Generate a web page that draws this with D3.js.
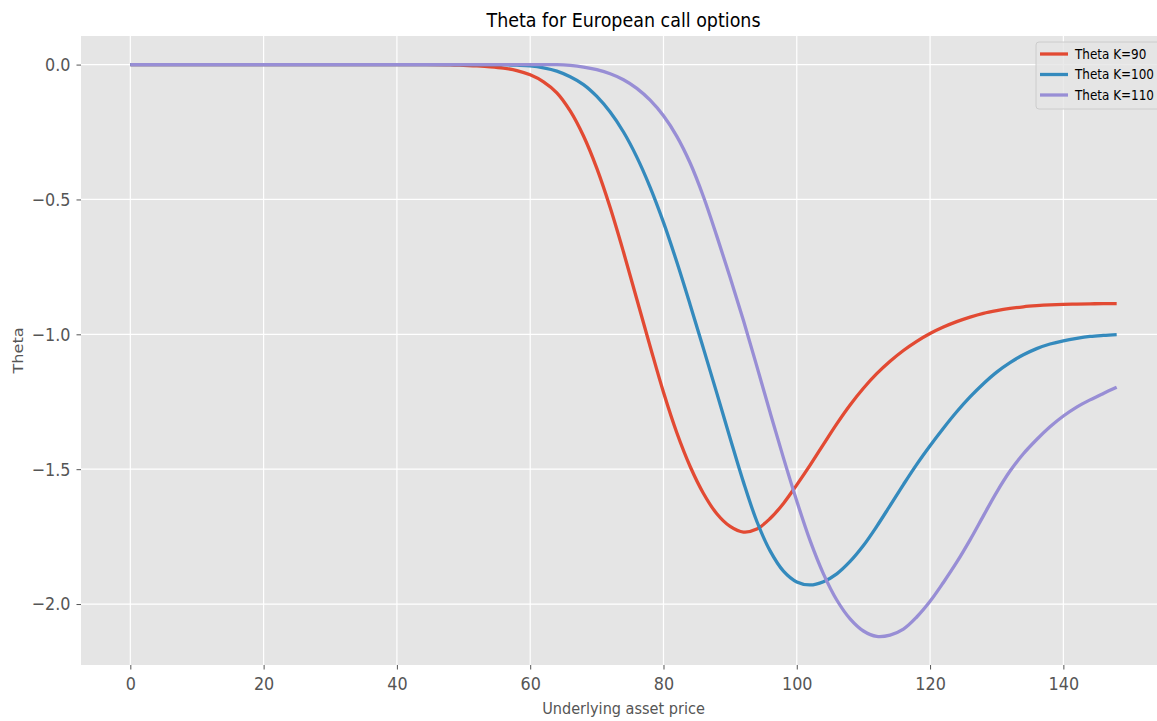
<!DOCTYPE html>
<html>
<head>
<meta charset="utf-8">
<script src="https://cdn.jsdelivr.net/npm/d3@7"></script>
<style>
  html, body { margin: 0; padding: 0; background: #ffffff; }
  svg { display: block; font-family: "DejaVu Sans", sans-serif; }
</style>
</head>
<body>
<svg id="chart" width="1157" height="721"></svg>
<script>
// Underlying asset prices at which theta was evaluated
const prices = [0, 10, 20, 30, 40, 44, 48, 50, 52, 54, 56, 58, 60, 62, 64, 66, 68, 70, 72, 74, 76, 78,
  80, 82, 84, 86, 88, 90, 92, 94, 96, 98, 100, 102, 104, 106, 108, 110, 112, 114, 116, 118,
  120, 122, 124, 126, 128, 130, 132, 134, 136, 138, 140, 142, 144, 146, 148];

// Theta of a European call, strike 90
const thetaK90 = [0, 0, 0, 0, 0, 0, -0.001, -0.003, -0.005, -0.008, -0.013, -0.022, -0.038, -0.064, -0.105, -0.172, -0.265, -0.385, -0.53, -0.695, -0.87, -1.045,
  -1.215, -1.365, -1.49, -1.59, -1.665, -1.712, -1.733, -1.722, -1.683, -1.627, -1.558, -1.485, -1.408, -1.332, -1.262, -1.2, -1.146, -1.1, -1.06, -1.026,
  -0.997, -0.973, -0.953, -0.936, -0.922, -0.912, -0.904, -0.898, -0.894, -0.891, -0.889, -0.888, -0.887, -0.886, -0.886];

// Theta of a European call, strike 100
const thetaK100 = [0, 0, 0, 0, 0, 0, 0, 0, 0, 0, 0, -0.002, -0.005, -0.012, -0.024, -0.045, -0.074, -0.118, -0.176, -0.25, -0.343, -0.455,
  -0.585, -0.732, -0.89, -1.053, -1.218, -1.385, -1.548, -1.693, -1.803, -1.878, -1.918, -1.929, -1.917, -1.888, -1.842, -1.783, -1.712, -1.635, -1.557, -1.482,
  -1.413, -1.348, -1.287, -1.232, -1.183, -1.14, -1.105, -1.076, -1.053, -1.036, -1.024, -1.015, -1.008, -1.004, -1.001];

// Theta of a European call, strike 110
const thetaK110 = [0, 0, 0, 0, 0, 0, 0, 0, 0, 0, 0, 0, 0, 0, 0, -0.003, -0.009, -0.019, -0.034, -0.056, -0.088, -0.132,
  -0.19, -0.266, -0.365, -0.49, -0.636, -0.789, -0.949, -1.118, -1.29, -1.458, -1.618, -1.765, -1.888, -1.985, -2.055, -2.1, -2.12, -2.115, -2.093, -2.048,
  -1.99, -1.92, -1.845, -1.762, -1.673, -1.585, -1.507, -1.443, -1.39, -1.343, -1.303, -1.27, -1.243, -1.219, -1.196];

const seriesNames = ["Theta K=90", "Theta K=100", "Theta K=110"];
const seriesColors = ["#E24A33", "#348ABD", "#988ED5"];
const xTicks = [0, 20, 40, 60, 80, 100, 120, 140];
const yTicks = [0.0, -0.5, -1.0, -1.5, -2.0];

const series = [thetaK90, thetaK100, thetaK110].map((vals, i) => ({
  name: seriesNames[i],
  color: seriesColors[i],
  points: prices.map((p, j) => ({ x: p, y: vals[j] }))
}));

const svg = d3.select("#chart");
const margin = { left: 81, top: 36, right: 1166, bottom: 665 };
const TEXT_STRETCH = 1.15; // glyphs are drawn slightly taller than wide

// axis limits padded by 5% of the data span on each side
const xMin = d3.min(prices), xMax = d3.max(prices);
const xPad = (xMax - xMin) * 0.05;
const allY = [].concat(thetaK90, thetaK100, thetaK110);
const yMin = d3.min(allY), yMax = d3.max(allY);
const yPad = (yMax - yMin) * 0.05;

const x = d3.scaleLinear().domain([xMin - xPad, xMax + xPad]).range([margin.left, margin.right]);
const y = d3.scaleLinear().domain([yMin - yPad, yMax + yPad]).range([margin.bottom, margin.top]);

// panel background
svg.append("rect")
  .attr("x", margin.left).attr("y", margin.top)
  .attr("width", margin.right - margin.left).attr("height", margin.bottom - margin.top)
  .attr("fill", "#E5E5E5");

// white grid
const grid = svg.append("g");
grid.selectAll("line.gx").data(xTicks).join("line")
  .attr("x1", d => x(d)).attr("x2", d => x(d))
  .attr("y1", margin.top).attr("y2", margin.bottom)
  .attr("stroke", "#ffffff").attr("stroke-width", 1.2);
grid.selectAll("line.gy").data(yTicks).join("line")
  .attr("x1", margin.left).attr("x2", margin.right)
  .attr("y1", d => y(d)).attr("y2", d => y(d))
  .attr("stroke", "#ffffff").attr("stroke-width", 1.2);

// axes
const fmt = d3.format(".1f");
const xAxis = svg.append("g")
  .attr("transform", `translate(0,${margin.bottom})`)
  .call(d3.axisBottom(x).tickValues(xTicks).tickSize(4.5).tickPadding(6).tickFormat(d3.format("d")));
const yAxis = svg.append("g")
  .attr("transform", `translate(${margin.left},0)`)
  .call(d3.axisLeft(y).tickValues(yTicks).tickSize(4.5).tickPadding(6)
    .tickFormat(d => fmt(d).replace("-", "\u2212")));

[xAxis, yAxis].forEach(g => {
  g.select(".domain").remove();
  g.selectAll(".tick line").attr("stroke", "#555555").attr("stroke-width", 1);
  g.selectAll(".tick text").attr("fill", "#555555")
    .attr("transform", `scale(1,${TEXT_STRETCH})`)
    .style("font-family", "DejaVu Sans, sans-serif").style("font-size", "16px");
});

// curves
const line = d3.line().x(d => x(d.x)).y(d => y(d.y)).curve(d3.curveCatmullRom.alpha(0.5));
const plot = svg.append("g");
plot.selectAll("path.series").data(series).join("path")
  .attr("class", "series")
  .attr("d", d => line(d.points))
  .attr("fill", "none")
  .attr("stroke", d => d.color)
  .attr("stroke-width", 3.3)
  .attr("stroke-linejoin", "round");

// title and axis labels
svg.append("text")
  .attr("transform", `translate(${(margin.left + margin.right) / 2},27) scale(1,${TEXT_STRETCH})`)
  .attr("text-anchor", "middle")
  .attr("fill", "#000000")
  .style("font-size", "17.5px")
  .text("Theta for European call options");

svg.append("text")
  .attr("transform", `translate(${(margin.left + margin.right) / 2},714) scale(1,${TEXT_STRETCH})`)
  .attr("text-anchor", "middle")
  .attr("fill", "#555555")
  .style("font-size", "14.5px")
  .text("Underlying asset price");

svg.append("text")
  .attr("transform", `translate(23,${(margin.top + margin.bottom) / 2}) scale(1,${TEXT_STRETCH}) rotate(-90)`)
  .attr("text-anchor", "middle")
  .attr("fill", "#555555")
  .style("font-size", "14px")
  .text("Theta");

// legend
const legend = svg.append("g").attr("transform", "translate(1036,42)");
legend.append("rect")
  .attr("x", 0).attr("y", 0).attr("width", 130).attr("height", 67)
  .attr("rx", 3)
  .attr("fill", "#E5E5E5").attr("fill-opacity", 0.8)
  .attr("stroke", "#CCCCCC").attr("stroke-width", 1);
const rows = legend.selectAll("g.row").data(series).join("g")
  .attr("transform", (d, i) => `translate(0,${12 + i * 20.5})`);
rows.append("line")
  .attr("x1", 4).attr("x2", 32).attr("y1", 0).attr("y2", 0)
  .attr("stroke", d => d.color).attr("stroke-width", 3.3);
rows.append("text")
  .attr("transform", `translate(39,0) scale(1,${TEXT_STRETCH})`)
  .attr("dy", "0.35em")
  .attr("fill", "#000000")
  .style("font-size", "12px")
  .text(d => d.name);
</script>
</body>
</html>
